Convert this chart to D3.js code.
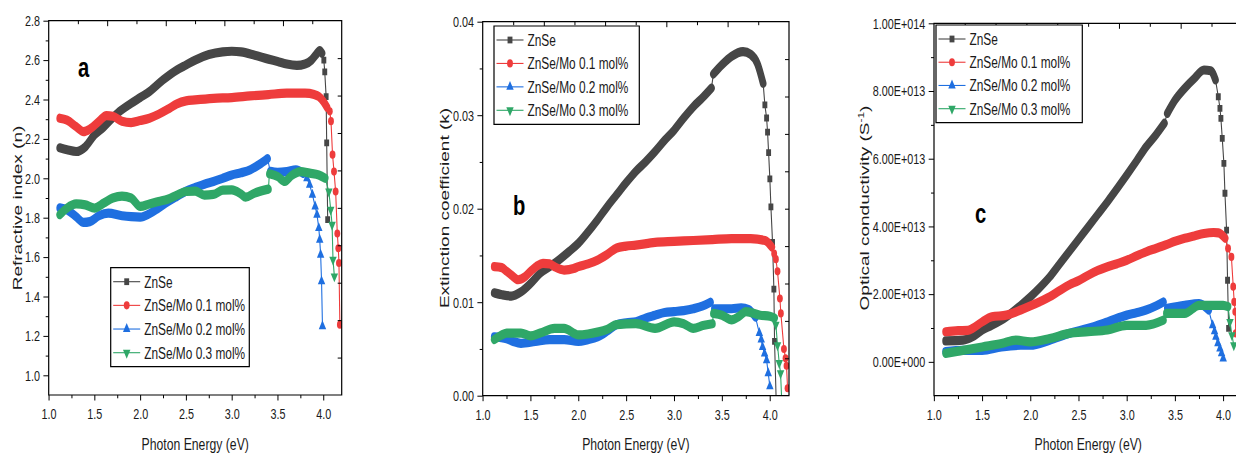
<!DOCTYPE html>
<html>
<head>
<meta charset="utf-8">
<script src="https://cdn.jsdelivr.net/npm/d3@7/dist/d3.min.js"></script>
<style>
	body { margin: 0; background: #fff; }
	svg { display: block; }
</style>
</head>
<body>
<div id="chart"></div>
<script>

// series order: ZnSe, Mo 0.1, Mo 0.2, Mo 0.3
var seriesNames = ["ZnSe", "ZnSe/Mo 0.1 mol%", "ZnSe/Mo 0.2 mol%", "ZnSe/Mo 0.3 mol%"];

// photon energy (eV) vs refractive index n
var refrZnSe = [[1.12,2.155],[1.2,2.145],[1.3,2.136],[1.4,2.16],[1.5,2.22],[1.6,2.26],[1.75,2.33],[1.9,2.38],[2.0,2.41],[2.1,2.44],[2.25,2.50],[2.4,2.55],[2.5,2.575],[2.6,2.60],[2.75,2.628],[2.9,2.642],[3.0,2.645],[3.1,2.642],[3.25,2.625],[3.4,2.605],[3.5,2.593],[3.6,2.58],[3.71,2.573],[3.8,2.58],[3.87,2.60],[3.92,2.628],[3.96,2.648],[3.985,2.635],
	[4.005,2.60],[4.015,2.54],[4.03,2.415],[4.036,2.18],[4.047,1.79]];
var refrMo01 = [[1.12,2.305],[1.2,2.295],[1.3,2.262],[1.38,2.237],[1.45,2.25],[1.55,2.29],[1.63,2.318],[1.7,2.315],[1.8,2.29],[1.9,2.283],[2.0,2.293],[2.1,2.305],[2.2,2.325],[2.3,2.35],[2.4,2.378],[2.5,2.393],[2.6,2.398],[2.8,2.406],[3.0,2.41],[3.2,2.418],[3.4,2.425],[3.6,2.432],[3.8,2.432],[3.9,2.425],[3.95,2.415],[4.0,2.39],[4.04,2.36],
	[4.07,2.34],[4.083,2.29],[4.10,2.12],[4.116,2.034],[4.134,1.933],[4.152,1.72],[4.163,1.645],[4.17,1.57],[4.18,1.257]];
var refrMo02 = [[1.12,1.85],[1.2,1.84],[1.3,1.805],[1.38,1.776],[1.45,1.78],[1.55,1.81],[1.65,1.823],[1.8,1.81],[1.9,1.805],[2.0,1.803],[2.1,1.82],[2.2,1.849],[2.3,1.88],[2.4,1.908],[2.5,1.935],[2.6,1.953],[2.7,1.97],[2.8,1.984],[2.9,2.0],[3.0,2.017],[3.1,2.028],[3.2,2.043],[3.3,2.07],[3.39,2.10],[3.42,2.035],[3.5,2.03],[3.6,2.034],[3.7,2.043],[3.78,2.025],
	[3.82,2.0],[3.85,1.967],[3.88,1.917],[3.91,1.857],[3.93,1.815],[3.95,1.747],[3.96,1.688],[3.97,1.612],[3.98,1.477],[3.99,1.249]];
var refrMo03 = [[1.12,1.815],[1.2,1.849],[1.3,1.87],[1.4,1.865],[1.5,1.849],[1.6,1.874],[1.7,1.90],[1.8,1.91],[1.9,1.90],[2.0,1.857],[2.1,1.87],[2.2,1.882],[2.3,1.894],[2.4,1.915],[2.5,1.933],[2.6,1.935],[2.7,1.915],[2.8,1.918],[2.9,1.94],[3.0,1.941],[3.1,1.92],[3.15,1.904],[3.25,1.925],[3.4,1.945],[3.41,2.023],[3.5,2.009],[3.58,1.984],[3.65,2.013],[3.75,2.034],[3.85,2.026],[3.95,2.017],[4.02,2.0],
	[4.06,1.933],[4.08,1.84],[4.095,1.764],[4.105,1.587],[4.12,1.502]];
var refrTailFrom = [4.0, 4.07, 3.82, 4.06];

// photon energy (eV) vs extinction coefficient k
var extZnSe = [[1.12,0.0110],[1.2,0.0108],[1.3,0.01066],[1.4,0.0111],[1.5,0.0120],[1.6,0.0131],[1.75,0.01415],[1.9,0.0154],[2.0,0.0163],[2.1,0.0175],[2.2,0.0188],[2.3,0.0202],[2.4,0.0215],[2.5,0.0228],[2.6,0.0240],[2.7,0.0250],[2.8,0.0261],[2.9,0.0273],[3.0,0.0284],[3.1,0.0297],[3.2,0.0309],[3.3,0.0319],[3.39,0.0329],[3.41,0.0344],[3.5,0.0354],[3.6,0.0363],[3.72,0.0368],[3.8,0.0365],[3.87,0.0355],[3.93,0.0334],
	[3.948,0.0311],[3.966,0.0297],[3.976,0.0282],[3.987,0.0260],[4.0,0.0232],[4.011,0.0202],[4.028,0.0164],[4.042,0.0114],[4.049,0.0058],[4.07,-0.002]];
var extMo01 = [[1.12,0.0138],[1.2,0.0137],[1.25,0.0133],[1.3,0.0129],[1.37,0.0124],[1.44,0.0127],[1.5,0.0133],[1.57,0.0139],[1.63,0.01415],[1.7,0.0141],[1.75,0.0138],[1.85,0.01344],[1.95,0.0136],[2.0,0.0138],[2.1,0.0141],[2.2,0.0145],[2.3,0.0151],[2.4,0.0158],[2.5,0.0160],[2.6,0.0161],[2.8,0.0164],[3.0,0.0165],[3.2,0.0166],[3.4,0.0167],[3.6,0.0168],[3.8,0.0168],[3.95,0.0166],[4.02,0.0159],
	[4.045,0.0152],[4.063,0.0146],[4.08,0.0133],[4.105,0.0104],[4.115,0.0088],[4.147,0.0050],[4.164,0.0040],[4.174,0.0032],[4.185,0.0008]];
var extMo02 = [[1.12,0.0063],[1.25,0.0061],[1.32,0.0058],[1.4,0.0056],[1.55,0.0058],[1.7,0.0060],[1.85,0.0060],[2.0,0.0058],[2.1,0.0060],[2.2,0.0063],[2.3,0.0069],[2.4,0.0076],[2.5,0.0078],[2.6,0.0079],[2.7,0.0083],[2.8,0.0086],[2.9,0.0089],[3.0,0.0090],[3.1,0.0091],[3.2,0.0093],[3.3,0.0096],[3.38,0.0100],[3.42,0.0093],[3.5,0.0093],[3.6,0.0093],[3.7,0.0094],[3.78,0.0092],[3.85,0.0084],
	[3.89,0.0067],[3.91,0.0060],[3.924,0.0052],[3.945,0.0045],[3.966,0.0038],[3.983,0.0024],[4.0,0.0010]];
var extMo03 = [[1.12,0.0060],[1.2,0.0065],[1.25,0.0067],[1.4,0.0067],[1.5,0.0064],[1.6,0.0067],[1.75,0.0072],[1.85,0.0072],[2.0,0.0065],[2.1,0.0066],[2.2,0.0068],[2.3,0.0071],[2.4,0.0076],[2.6,0.0077],[2.8,0.0072],[3.0,0.0079],[3.1,0.0077],[3.2,0.0072],[3.3,0.0075],[3.4,0.0077],[3.41,0.0088],[3.5,0.0086],[3.6,0.0081],[3.68,0.0085],[3.75,0.0090],[3.9,0.0086],[4.0,0.0085],[4.05,0.0083],
	[4.063,0.0076],[4.08,0.0054],[4.098,0.0035],[4.112,0.0024],[4.13,-0.002]];
var extTailFrom = [3.94, 4.04, 3.89, 4.06];

// photon energy (eV) vs optical conductivity (1/s)
var condZnSe = [[1.12,0.62e13],[1.3,0.64e13],[1.4,0.74e13],[1.5,0.94e13],[1.6,1.08e13],[1.75,1.33e13],[1.9,1.67e13],[2.0,1.92e13],[2.1,2.20e13],[2.2,2.51e13],[2.3,2.88e13],[2.4,3.25e13],[2.5,3.62e13],[2.6,3.99e13],[2.7,4.36e13],[2.8,4.73e13],[2.9,5.12e13],[3.0,5.52e13],[3.1,5.93e13],[3.2,6.35e13],[3.3,6.70e13],[3.39,7.05e13],[3.42,7.34e13],[3.5,7.73e13],[3.6,8.08e13],[3.7,8.37e13],[3.8,8.62e13],[3.87,8.60e13],[3.92,8.33e13],
	[3.949,7.83e13],[3.966,7.49e13],[3.976,7.19e13],[3.99,6.60e13],[4.007,5.86e13],[4.018,4.98e13],[4.035,3.89e13],[4.045,2.41e13],[4.056,0.99e13]];
var condMo01 = [[1.12,0.89e13],[1.25,0.92e13],[1.35,0.93e13],[1.4,0.99e13],[1.5,1.18e13],[1.6,1.33e13],[1.75,1.38e13],[1.9,1.53e13],[2.0,1.65e13],[2.1,1.78e13],[2.2,1.92e13],[2.3,2.10e13],[2.4,2.27e13],[2.5,2.40e13],[2.6,2.56e13],[2.7,2.70e13],[2.8,2.81e13],[2.9,2.90e13],[3.0,3.00e13],[3.1,3.13e13],[3.2,3.25e13],[3.3,3.35e13],[3.4,3.45e13],[3.5,3.56e13],[3.6,3.65e13],[3.7,3.72e13],[3.8,3.79e13],[3.9,3.82e13],[3.95,3.81e13],[4.02,3.65e13],
	[4.05,3.35e13],[4.085,3.10e13],[4.104,2.22e13],[4.114,1.77e13],[4.125,1.48e13],[4.13,0.84e13]];
var condMo02 = [[1.12,0.30e13],[1.3,0.34e13],[1.5,0.34e13],[1.7,0.44e13],[1.9,0.49e13],[2.0,0.49e13],[2.2,0.64e13],[2.4,0.84e13],[2.6,0.99e13],[2.8,1.18e13],[3.0,1.38e13],[3.1,1.45e13],[3.2,1.53e13],[3.3,1.65e13],[3.38,1.77e13],[3.42,1.58e13],[3.6,1.67e13],[3.75,1.72e13],[3.85,1.53e13],
	[3.89,1.08e13],[3.91,0.90e13],[3.924,0.74e13],[3.945,0.55e13],[3.966,0.39e13],[3.983,0.25e13],[4.0,0.10e13]];
var condMo03 = [[1.12,0.25e13],[1.3,0.34e13],[1.5,0.44e13],[1.7,0.54e13],[1.85,0.64e13],[2.0,0.59e13],[2.2,0.69e13],[2.4,0.84e13],[2.6,0.89e13],[2.8,0.94e13],[3.0,1.08e13],[3.2,1.08e13],[3.38,1.23e13],[3.41,1.43e13],[3.6,1.43e13],[3.75,1.67e13],[3.9,1.67e13],[4.0,1.67e13],[4.05,1.63e13],
	[4.07,1.18e13],[4.09,0.79e13],[4.11,0.49e13]];
var condTailFrom = [3.94, 4.05, 3.89, 4.07];

// the spectrometer switches detector here, some curves have a step
var detectorStep = 3.4;

var xTicks = [1.0, 1.5, 2.0, 2.5, 3.0, 3.5, 4.0];
var xMinorTicks = [1.25, 1.75, 2.25, 2.75, 3.25, 3.75];
var refrTicks = [1.0, 1.2, 1.4, 1.6, 1.8, 2.0, 2.2, 2.4, 2.6, 2.8];
var refrMinorTicks = [1.1, 1.3, 1.5, 1.7, 1.9, 2.1, 2.3, 2.5, 2.7];
var extTicks = [0, 0.01, 0.02, 0.03, 0.04];
var extMinorTicks = [0.005, 0.015, 0.025, 0.035];
var condTicks = [0, 2e13, 4e13, 6e13, 8e13, 1e14];
var condMinorTicks = [1e13, 3e13, 5e13, 7e13, 9e13];


var width = 1236, height = 454;
var SX = 0.72;  // the source figure is squeezed sideways, text and markers included
var font = "'Liberation Sans', Arial, sans-serif";
var colors = ["#464646", "#ee3c3c", "#1f6fe0", "#2fa767"];
var symbols = [d3.symbolSquare, d3.symbolCircle, d3.symbolTriangle, d3.symbolTriangle];

function sciFormat(v) {
	if (v === 0) return "0.00E+000";
	var e = Math.floor(Math.log10(Math.abs(v)) + 1e-9);
	return (v / Math.pow(10, e)).toFixed(2) + "E+" + String(e).padStart(3, "0");
}

var panels = [
	{ key: "a", left: 48.7, right: 341.7, top: 20.7, bottom: 395, yDomain: [0.9, 2.8],
		yTicks: refrTicks, yMinor: refrMinorTicks, yFormat: d3.format(".1f"),
		series: [refrZnSe, refrMo01, refrMo02, refrMo03], tailFrom: refrTailFrom,
		title: ["Refractive index (n)"], titleX: 22,
		letter: { x: 78, y: 77 },
		legend: { left: 110.7, top: 267.7, right: 249.3, bottom: 366.7 } },
	{ key: "b", left: 482.7, right: 789, top: 21.7, bottom: 395.7, yDomain: [0, 0.04],
		yTicks: extTicks, yMinor: extMinorTicks, yFormat: d3.format(".2f"),
		series: [extZnSe, extMo01, extMo02, extMo03], tailFrom: extTailFrom,
		title: ["Extinction coefficient (k)"], titleX: 449,
		letter: { x: 513, y: 215 },
		legend: { left: 494, top: 26, right: 639.3, bottom: 124.3 } },
	{ key: "c", left: 934, right: 1242.5, top: 23.3, bottom: 395.7, yDomain: [-1e13, 1e14],
		yTicks: condTicks, yMinor: condMinorTicks, yFormat: sciFormat,
		series: [condZnSe, condMo01, condMo02, condMo03], tailFrom: condTailFrom,
		title: ["Optical conductivity (S", "-1", ")"], titleX: 869,
		letter: { x: 975, y: 223 },
		legend: { left: 936, top: 25, right: 1082.3, bottom: 122.7 } }
];

var svg = d3.select("#chart").append("svg").attr("width", width).attr("height", height);
var root = svg.append("g").attr("transform", "scale(" + SX + ",1)");

function styleAxis(g, size) {
	g.select(".domain").remove();
	g.selectAll("line").attr("stroke", "#000").attr("stroke-width", 1).attr("vector-effect", "non-scaling-stroke");
	g.selectAll("text").attr("font-family", font).attr("font-size", size || 15).attr("fill", "#1a1a1a");
}

function marker(sel, i) {
	sel.attr("d", d3.symbol(symbols[i], i === 1 ? 52 : 46)).attr("fill", colors[i]);
}

panels.forEach(function(p) {
	var x = d3.scaleLinear().domain([1, 4.2]).range([p.left / SX, p.right / SX]);
	var y = d3.scaleLinear().domain(p.yDomain).range([p.bottom, p.top]);
	// opposite axes carry ten plain divisions
	var xTop = d3.scaleLinear().domain([0, 10]).range(x.range());
	var yRight = d3.scaleLinear().domain([0, 10]).range([p.bottom, p.top]);

	var g = root.append("g").attr("class", "panel-" + p.key);
	var clipId = "clip-" + p.key;
	g.append("clipPath").attr("id", clipId).append("rect")
		.attr("x", x.range()[0]).attr("y", p.top)
		.attr("width", x.range()[1] - x.range()[0]).attr("height", p.bottom - p.top);

	var plot = g.append("g").attr("clip-path", "url(#" + clipId + ")");
	var line = d3.line().x(function(d) { return x(d[0]); }).y(function(d) { return y(d[1]); });
	var bandLine = d3.line().curve(d3.curveMonotoneX)
		.x(function(d) { return x(d[0]); }).y(function(d) { return y(d[1]); });

	p.series.forEach(function(pts, i) {
		var tail = p.tailFrom[i];
		var s = plot.append("g");
		s.append("path").attr("d", line(pts))
			.attr("fill", "none").attr("stroke", colors[i]).attr("stroke-width", 1.1)
			.attr("vector-effect", "non-scaling-stroke");
		// dense markers in the measured range merge into one thick band
		var body = pts.filter(function(d) { return d[0] < tail; });
		var seg1 = body.filter(function(d) { return d[0] <= detectorStep; });
		var seg2 = body.filter(function(d) { return d[0] > detectorStep; });
		var segs = [body];
		if (seg1.length && seg2.length &&
			Math.abs(y(seg1[seg1.length - 1][1]) - y(seg2[0][1])) > 5) segs = [seg1, seg2];
		segs.forEach(function(seg) {
			if (seg.length < 2) return;
			s.append("path").attr("d", bandLine(seg))
				.attr("fill", "none").attr("stroke", colors[i]).attr("stroke-width", 9.2)
				.attr("stroke-linejoin", "round").attr("stroke-linecap", "round");
		});
		s.selectAll(".pt").data(pts.filter(function(d) { return d[0] >= tail; }))
			.enter().append("path").attr("class", "pt")
			.attr("transform", function(d) {
				return "translate(" + x(d[0]) + "," + y(d[1]) + ")" + (i === 3 ? " rotate(180)" : "");
			})
			.call(marker, i);
	});

	// frame
	g.append("rect")
		.attr("x", x.range()[0]).attr("y", p.top)
		.attr("width", x.range()[1] - x.range()[0]).attr("height", p.bottom - p.top)
		.attr("fill", "none").attr("stroke", "#000").attr("stroke-width", 1.2)
		.attr("vector-effect", "non-scaling-stroke");

	g.append("g").attr("transform", "translate(0," + p.bottom + ")")
		.call(d3.axisBottom(x).tickValues(xTicks).tickFormat(d3.format(".1f")).tickSize(5.5).tickPadding(8))
		.call(styleAxis);
	g.append("g").attr("transform", "translate(0," + p.bottom + ")")
		.call(d3.axisBottom(x).tickValues(xMinorTicks).tickFormat("").tickSize(3.3))
		.call(styleAxis);
	g.append("g").attr("transform", "translate(" + x.range()[0] + ",0)")
		.call(d3.axisLeft(y).tickValues(p.yTicks).tickFormat(p.yFormat).tickSize(5.3 / SX).tickPadding(3.5 / SX))
		.call(styleAxis);
	g.append("g").attr("transform", "translate(" + x.range()[0] + ",0)")
		.call(d3.axisLeft(y).tickValues(p.yMinor).tickFormat("").tickSize(3 / SX))
		.call(styleAxis);
	g.append("g").attr("transform", "translate(0," + p.top + ")")
		.call(d3.axisTop(xTop).tickValues([2, 4, 6, 8]).tickFormat("").tickSize(-5.5))
		.call(styleAxis);
	g.append("g").attr("transform", "translate(0," + p.top + ")")
		.call(d3.axisTop(xTop).tickValues([1, 3, 5, 7, 9]).tickFormat("").tickSize(-3.5))
		.call(styleAxis);
	g.append("g").attr("transform", "translate(" + x.range()[1] + ",0)")
		.call(d3.axisRight(yRight).tickValues([1, 2, 3, 4, 5, 6, 7, 8, 9]).tickFormat("").tickSize(-4 / SX))
		.call(styleAxis);

	// axis titles
	g.append("text")
		.attr("x", (p.left + p.right) / 2 / SX).attr("y", 450)
		.attr("text-anchor", "middle").attr("font-family", font).attr("font-size", 17).attr("fill", "#1a1a1a")
		.text("Photon Energy (eV)");
	var yt = g.append("text")
		.attr("transform", "translate(" + p.titleX / SX + ",208) rotate(-90)")
		.attr("text-anchor", "middle").attr("font-family", font).attr("font-size", 19).attr("fill", "#1a1a1a");
	yt.append("tspan").text(p.title[0]);
	if (p.title.length > 1) {
		yt.append("tspan").attr("dy", -7).attr("font-size", 12).text(p.title[1]);
		yt.append("tspan").attr("dy", 7).text(p.title[2]);
	}

	g.append("text")
		.attr("x", p.letter.x / SX).attr("y", p.letter.y)
		.attr("font-family", font).attr("font-size", 28).attr("font-weight", "bold").attr("fill", "#000")
		.text(p.key);

	// legend
	var L = p.legend;
	var lg = g.append("g");
	lg.append("rect")
		.attr("x", L.left / SX).attr("y", L.top)
		.attr("width", (L.right - L.left) / SX).attr("height", L.bottom - L.top)
		.attr("fill", "#fff").attr("stroke", "#000").attr("stroke-width", 1.2)
		.attr("vector-effect", "non-scaling-stroke");
	var rowH = (L.bottom - L.top - 28) / 3;
	seriesNames.forEach(function(name, i) {
		var cy = L.top + 14 + i * rowH;
		lg.append("line")
			.attr("x1", (L.left + 2.5) / SX).attr("x2", (L.left + 29.5) / SX)
			.attr("y1", cy).attr("y2", cy)
			.attr("stroke", colors[i]).attr("stroke-width", 1.1).attr("vector-effect", "non-scaling-stroke");
		lg.append("path")
			.attr("transform", "translate(" + (L.left + 16) / SX + "," + cy + ")" + (i === 3 ? " rotate(180)" : ""))
			.call(marker, i);
		lg.append("text")
			.attr("x", (L.left + 33.5) / SX).attr("y", cy).attr("dy", "0.36em")
			.attr("font-family", font).attr("font-size", 16.5).attr("fill", "#1a1a1a")
			.text(name);
	});
});

</script>
</body>
</html>
